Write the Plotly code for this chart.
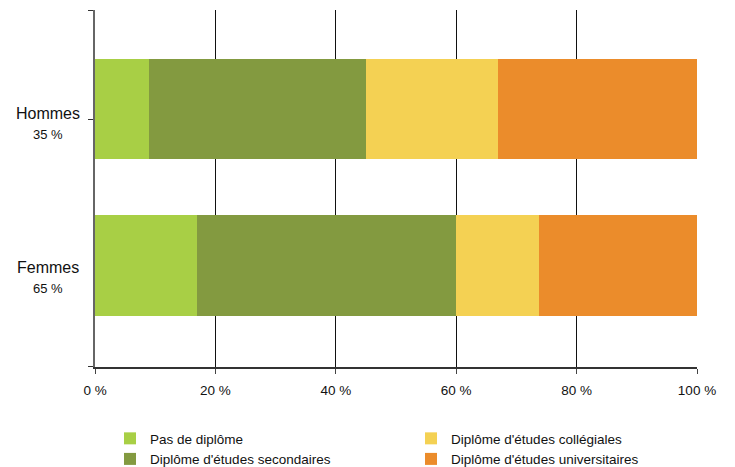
import plotly.graph_objects as go

categories = ["Hommes", "Femmes"]
shares = ["35 %", "65 %"]
series_names = ["Pas de diplôme", "Diplôme d'études secondaires",
                "Diplôme d'études collégiales", "Diplôme d'études universitaires"]
pas_diplome = [9.0, 16.9]
secondaires = [36.0, 43.1]
collegiales = [21.9, 13.8]
universitaires = [33.1, 26.2]
colors = ["#A8CF45", "#839A40", "#F4D153", "#EB8C2B"]
legend_ranks = [1, 3, 2, 4]
x_ticks = [0, 20, 40, 60, 80, 100]
x_tick_labels = ["0 %", "20 %", "40 %", "60 %", "80 %", "100 %"]

fig = go.Figure()
for name, vals, col, rk in zip(series_names, [pas_diplome, secondaires, collegiales, universitaires], colors, legend_ranks):
    fig.add_trace(go.Bar(
        y=categories, x=vals, name=name, orientation="h",
        marker=dict(color=col, line=dict(width=0)),
        legendrank=rk,
    ))

for c, s, sh in zip(categories, shares, [-4, -2.5]):
    fig.add_annotation(x=-0.078, xref="paper", y=c, yref="y", text=c, showarrow=False,
                       xanchor="center", yanchor="middle", yshift=sh,
                       font=dict(size=16, color="#111"))
    fig.add_annotation(x=-0.078, xref="paper", y=c, yref="y", text=s, showarrow=False,
                       xanchor="center", yanchor="middle", yshift=sh - 21,
                       font=dict(size=13, color="#111"))

# figure is 8px smaller than the window to absorb the default page margin
fig.update_layout(
    barmode="stack",
    bargap=0.36,
    width=727, height=459,
    margin=dict(l=87, r=38, t=2, b=100, autoexpand=False),
    plot_bgcolor="white", paper_bgcolor="white",
    font=dict(family="Liberation Sans, Arial, sans-serif", size=13.5, color="#111"),
    legend=dict(orientation="h", xref="container", yref="container",
                x=0.1403, y=0.0957, xanchor="left", yanchor="top",
                entrywidth=256, entrywidthmode="pixels", font=dict(size=13.5),
                traceorder="normal", itemwidth=30),
    showlegend=True,
)
fig.update_xaxes(range=[0, 100], tickvals=x_ticks, ticktext=x_tick_labels,
                 showgrid=True, gridcolor="#111", gridwidth=1,
                 showline=True, linecolor="#333", linewidth=1.5,
                 ticks="outside", ticklen=5, tickcolor="#444", zeroline=False,
                 ticklabelstandoff=5, automargin=False)
fig.update_yaxes(categoryorder="array", categoryarray=categories,
                 range=[1.649, -0.633], automargin=False,
                 tickmode="array", tickvals=[-0.628, 0.064, 1.645], ticktext=["", "", ""],
                 showline=True, linecolor="#666", linewidth=2,
                 ticks="outside", ticklen=5, tickcolor="#333", showgrid=False)

fig.write_html("out.html")
